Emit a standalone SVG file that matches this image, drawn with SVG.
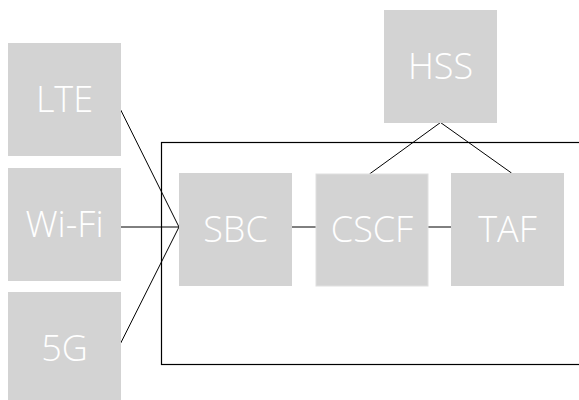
<svg xmlns="http://www.w3.org/2000/svg" width="579" height="400" viewBox="0 0 579 400">
<style>
.box{fill:#d3d3d3}
.lbl{fill:#ffffff;font-family:"Open Sans","DejaVu Sans",sans-serif;font-weight:300;font-size:36px;text-anchor:middle}
.ln{stroke:#000;stroke-width:1;fill:none}
</style>
<rect width="579" height="400" fill="#fff"/>
<g id="container"><rect x="161.5" y="142.5" width="440" height="222" fill="none" stroke="#000" stroke-width="1.2"/></g>
<g id="connectors">
<line class="ln" x1="120.5" y1="109.5" x2="179" y2="227"/>
<line class="ln" x1="120.5" y1="227" x2="179" y2="227"/>
<line class="ln" x1="120.5" y1="343.5" x2="179" y2="227"/>
<line class="ln" x1="292" y1="227" x2="316" y2="227"/>
<line class="ln" x1="428" y1="227" x2="451" y2="227"/>
<line class="ln" x1="440.5" y1="122.5" x2="369.5" y2="174"/>
<line class="ln" x1="440.5" y1="122.5" x2="511.5" y2="173"/>
</g>
<g id="LTE"><rect class="box" x="8" y="43" width="113" height="113"/><text class="lbl" x="64.5" y="112.3">LTE</text></g>
<g id="WiFi"><rect class="box" x="8" y="168" width="113" height="113"/><text class="lbl" x="64.5" y="237.3">Wi-Fi</text></g>
<g id="G5"><rect class="box" x="8" y="292" width="113" height="113"/><text class="lbl" x="64.5" y="361.3">5G</text></g>
<g id="HSS"><rect class="box" x="384" y="10" width="113" height="113"/><text class="lbl" x="440.5" y="79.3">HSS</text></g>
<g id="SBC"><rect class="box" x="179" y="173" width="113" height="113"/><text class="lbl" x="235.5" y="242.3">SBC</text></g>
<g id="CSCF"><rect class="box" x="316" y="174" width="112" height="112" stroke="#e0e0e0" stroke-width="1"/><text class="lbl" x="372" y="242.3">CSCF</text></g>
<g id="TAF"><rect class="box" x="451" y="173" width="113" height="113"/><text class="lbl" x="507.5" y="242.3">TAF</text></g>
</svg>
